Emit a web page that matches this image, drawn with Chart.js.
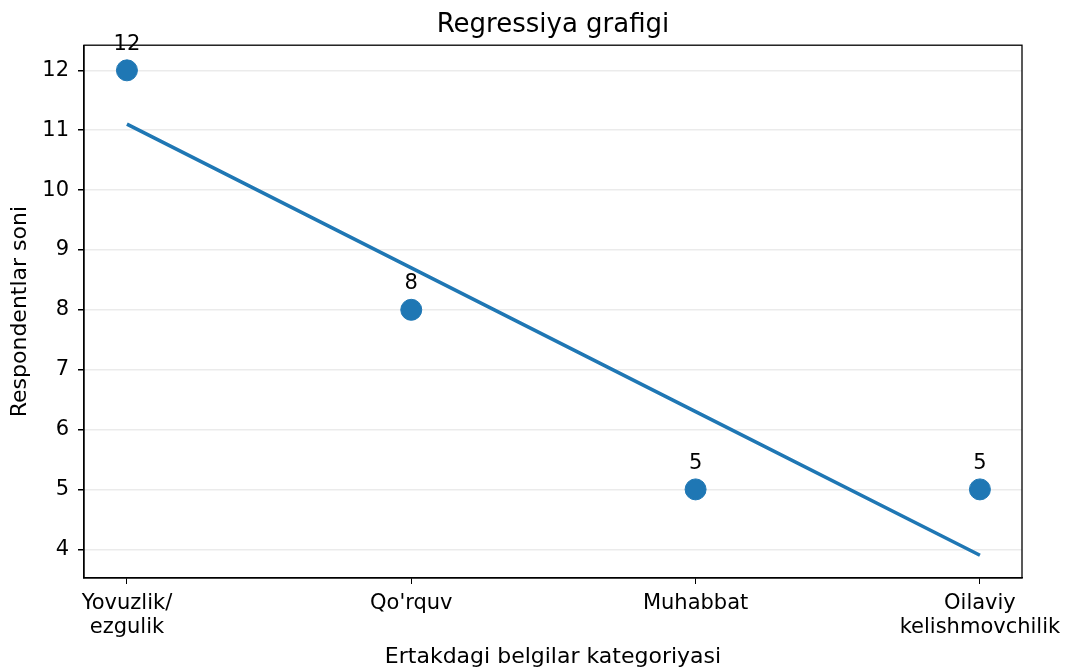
<!DOCTYPE html>
<html>
<head>
<meta charset="utf-8">
<script src="https://cdn.jsdelivr.net/npm/chart.js@4"></script>
<style>
  html, body { margin: 0; padding: 0; background: #fff; }
  #wrap { width: 1070px; height: 672px; }
</style>
</head>
<body>
<div id="wrap"><canvas id="regChart" width="1070" height="672"></canvas></div>
<script>
// categories and values
const categories = [['Yovuzlik/', 'ezgulik'], ["Qo'rquv"], ['Muhabbat'], ['Oilaviy', 'kelishmovchilik']];
const respondents = [12, 8, 5, 5];
const regression = [11.1, 8.7, 6.3, 3.9];
const yTicks = [4, 5, 6, 7, 8, 9, 10, 11, 12];

const blue = '#1f77b4';
const fontFamily = "'DejaVu Sans', sans-serif";

// value labels above each point + box round the plot
const extras = {
    id: 'extras',
    afterDatasetsDraw(chart) {
        const ctx = chart.ctx;
        const meta = chart.getDatasetMeta(0);
        ctx.save();
        ctx.fillStyle = '#000';
        ctx.font = '21px ' + fontFamily;
        ctx.textAlign = 'center';
        ctx.textBaseline = 'middle';
        meta.data.forEach((pt, i) => {
            ctx.fillText(String(respondents[i]), pt.x, pt.y - 26);
        });
        const a = chart.chartArea;
        ctx.strokeStyle = '#000';
        ctx.lineWidth = 1.3;
        ctx.strokeRect(a.left, a.top, a.right - a.left, a.bottom - a.top);
        ctx.restore();
    }
};

const ctx = document.getElementById('regChart').getContext('2d');
new Chart(ctx, {
    type: 'scatter',
    data: {
        datasets: [{
            label: 'Respondentlar',
            data: respondents.map((v, i) => ({ x: i, y: v })),
            backgroundColor: blue,
            borderColor: blue,
            pointRadius: 10.5,
            pointHoverRadius: 10.5,
            order: 2
        }, {
            type: 'line',
            label: 'Regressiya',
            data: regression.map((v, i) => ({ x: i, y: v })),
            borderColor: blue,
            borderWidth: 3.6,
            pointRadius: 0,
            fill: false,
            order: 1
        }]
    },
    options: {
        responsive: false,
        animation: false,
        layout: {
            padding: { left: 0, right: 48, top: 0, bottom: 0 }
        },
        plugins: {
            legend: { display: false },
            tooltip: { enabled: false },
            title: {
                display: true,
                fullSize: false,
                text: 'Regressiya grafigi',
                color: '#000',
                font: { family: fontFamily, size: 26, weight: 'normal' },
                padding: { top: 10, bottom: 4 }
            }
        },
        scales: {
            x: {
                type: 'linear',
                min: -0.151,
                max: 3.148,
                afterBuildTicks: (scale) => {
                    scale.ticks = categories.map((c, i) => ({ value: i }));
                },
                afterFit: (scale) => { scale.height = 94; },
                ticks: {
                    color: '#000',
                    font: { family: fontFamily, size: 21, lineHeight: 1.15 },
                    padding: 7,
                    maxRotation: 0,
                    autoSkip: false,
                    callback: (value) => categories[value]
                },
                grid: {
                    display: true,
                    drawOnChartArea: false,
                    drawTicks: true,
                    tickLength: 6,
                    tickColor: '#000'
                },
                border: { display: true, color: '#000', width: 1.3 },
                title: {
                    display: true,
                    text: 'Ertakdagi belgilar kategoriyasi',
                    color: '#000',
                    font: { family: fontFamily, size: 22 },
                    padding: { top: 2, bottom: 2 }
                }
            },
            y: {
                min: 3.52,
                max: 12.42,
                afterBuildTicks: (scale) => {
                    scale.ticks = yTicks.map(v => ({ value: v }));
                },
                afterFit: (scale) => { scale.width = 84; },
                ticks: {
                    color: '#000',
                    font: { family: fontFamily, size: 21 },
                    padding: 9
                },
                grid: {
                    color: '#ebebeb',
                    lineWidth: 1.5,
                    tickColor: '#000',
                    tickLength: 6
                },
                border: { display: true, color: '#000', width: 1.3 },
                title: {
                    display: true,
                    text: 'Respondentlar soni',
                    color: '#000',
                    font: { family: fontFamily, size: 22 },
                    padding: { top: 7, bottom: 6 }
                }
            }
        }
    },
    plugins: [extras]
});
</script>
</body>
</html>
